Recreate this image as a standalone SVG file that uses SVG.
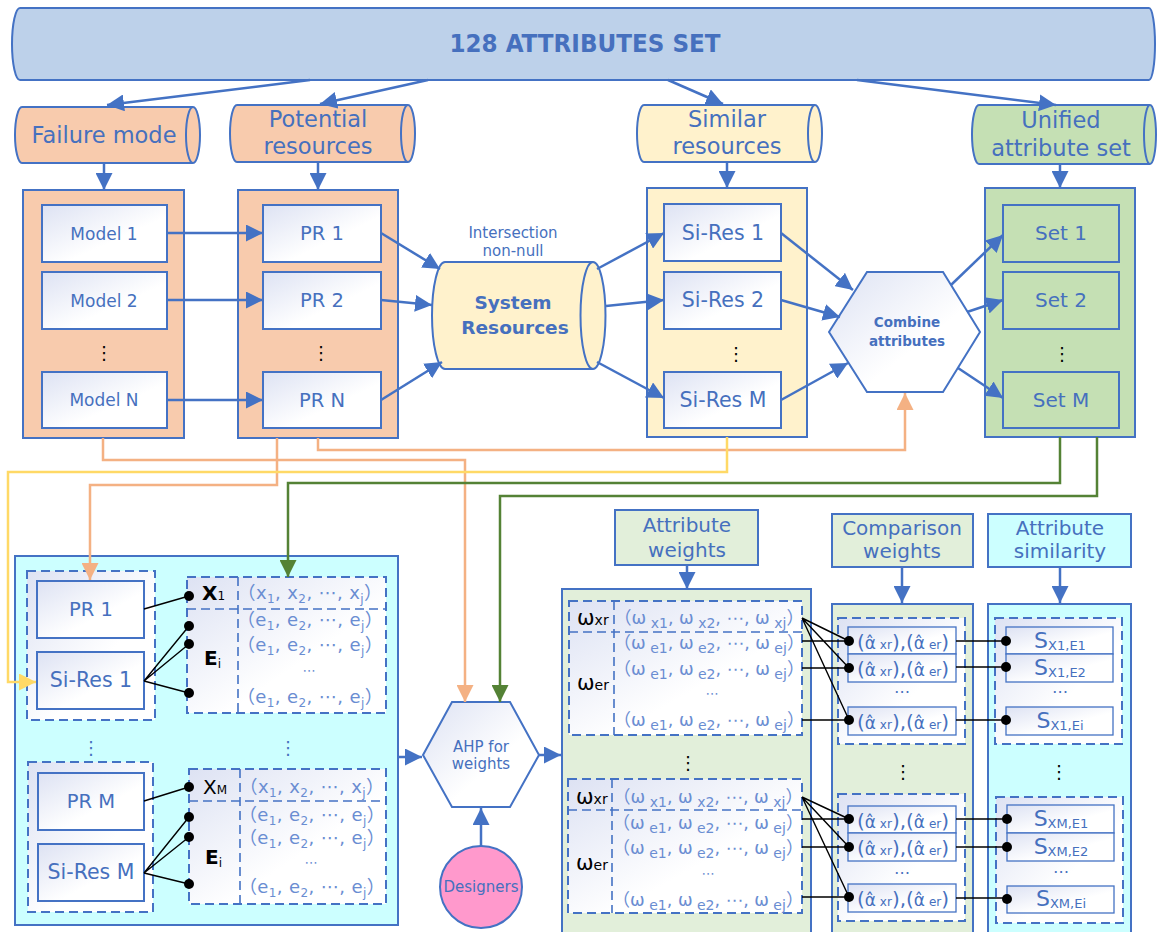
<svg xmlns="http://www.w3.org/2000/svg" width="1158" height="932" viewBox="0 0 1158 932">
<defs>
  <linearGradient id="lav" x1="0" y1="0" x2="1" y2="1">
    <stop offset="0" stop-color="#DDE2F3"/>
    <stop offset="0.6" stop-color="#FFFFFF"/>
  </linearGradient>
  <marker id="ab" viewBox="0 0 10 10" refX="10" refY="5" markerWidth="17" markerHeight="17" markerUnits="userSpaceOnUse" orient="auto"><path d="M0,0 L10,5 L0,10 Z" fill="#4472C4"/></marker>
  <marker id="ao" viewBox="0 0 10 10" refX="10" refY="5" markerWidth="17" markerHeight="17" markerUnits="userSpaceOnUse" orient="auto"><path d="M0,0 L10,5 L0,10 Z" fill="#F4B183"/></marker>
  <marker id="ag" viewBox="0 0 10 10" refX="10" refY="5" markerWidth="17" markerHeight="17" markerUnits="userSpaceOnUse" orient="auto"><path d="M0,0 L10,5 L0,10 Z" fill="#548235"/></marker>
  <marker id="ay" viewBox="0 0 10 10" refX="10" refY="5" markerWidth="17" markerHeight="17" markerUnits="userSpaceOnUse" orient="auto"><path d="M0,0 L10,5 L0,10 Z" fill="#FFD966"/></marker>
</defs>
<style>
  text { font-family: "DejaVu Sans", Verdana, "Noto Sans CJK SC", sans-serif; }
  .tm { fill: #4670BE; text-anchor: middle; }
  .tv { fill: #6A8DD2; text-anchor: middle; font-size: 18px; letter-spacing: 0.4px; }
  .tw { fill: #6A8DD2; text-anchor: middle; font-size: 17.5px; }
  .el { fill: #6A8DD2; text-anchor: middle; font-size: 13px; }
  .tk { fill: #000; }
  .box { fill: url(#lav); stroke: #4472C4; stroke-width: 2; }
  .cell { fill: url(#lav); stroke: #4472C4; stroke-width: 1.3; }
  .grp { fill: url(#lav); stroke: #4472C4; stroke-width: 2; stroke-dasharray: 9 5; }
  .dl { fill: none; stroke: #4472C4; stroke-width: 1.6; stroke-dasharray: 9 5; }
  .pnl { stroke: #4472C4; stroke-width: 2; }
  .c { fill: none; stroke: #4472C4; stroke-width: 2.5; marker-end: url(#ab); }
  .co { fill: none; stroke: #F4B183; stroke-width: 2.5; }
  .cy { fill: none; stroke: #FFD966; stroke-width: 2.5; }
  .cg { fill: none; stroke: #548235; stroke-width: 2.5; }
  .k { fill: none; stroke: #000; stroke-width: 1.4; }
  .dot { fill: #000; }
</style>

<!-- source attribute banner -->
<g id="attr-set">
  <path d="M20,8 H1149 A6,36 0 0 1 1149,80 H20 A8,36 0 0 1 20,8 Z" fill="#BDD1EA" stroke="#4472C4" stroke-width="2"/>
  <text x="585" y="52" class="tm" font-size="25" font-weight="bold" font-stretch="condensed" textLength="271" lengthAdjust="spacingAndGlyphs">128 ATTRIBUTES SET</text>
</g>

<!-- drum headers -->
<g id="failure-mode">
  <path d="M22,107 H193 A7,28 0 0 1 193,163 H22 A7,28 0 0 1 22,107 Z" fill="#F8CBAD" stroke="#4472C4" stroke-width="2"/>
  <path d="M193,107 A7,28 0 0 0 193,163" fill="none" stroke="#4472C4" stroke-width="2"/>
  <text x="104" y="143" class="tm" font-size="22.5">Failure mode</text>
</g>
<g id="potential-resources">
  <path d="M237,105 H408 A7,28.5 0 0 1 408,162 H237 A7,28.5 0 0 1 237,105 Z" fill="#F8CBAD" stroke="#4472C4" stroke-width="2"/>
  <path d="M408,105 A7,28.5 0 0 0 408,162" fill="none" stroke="#4472C4" stroke-width="2"/>
  <text x="318" y="127" class="tm" font-size="22.5">Potential</text>
  <text x="318" y="154" class="tm" font-size="22.5">resources</text>
</g>
<g id="similar-resources">
  <path d="M644,105 H815 A7,28.5 0 0 1 815,162 H644 A7,28.5 0 0 1 644,105 Z" fill="#FFF2CC" stroke="#4472C4" stroke-width="2"/>
  <path d="M815,105 A7,28.5 0 0 0 815,162" fill="none" stroke="#4472C4" stroke-width="2"/>
  <text x="727" y="127" class="tm" font-size="22.5">Similar</text>
  <text x="727" y="154" class="tm" font-size="22.5">resources</text>
</g>
<g id="unified-set">
  <path d="M979,105 H1150 A6,29.5 0 0 1 1150,164 H979 A7,29.5 0 0 1 979,105 Z" fill="#C5E0B4" stroke="#4472C4" stroke-width="2"/>
  <path d="M1150,105 A6,29.5 0 0 0 1150,164" fill="none" stroke="#4472C4" stroke-width="2"/>
  <text x="1061" y="128" class="tm" font-size="22.5">Unified</text>
  <text x="1061" y="156" class="tm" font-size="22.5">attribute set</text>
</g>

<!-- top containers -->
<g id="models">
  <rect x="23" y="190" width="161" height="248" fill="#F8CBAD" class="pnl"/>
  <rect x="42" y="205" width="125" height="57" class="box"/>
  <rect x="42" y="272" width="125" height="57" class="box"/>
  <rect x="42" y="372" width="125" height="56" class="box"/>
  <text x="104" y="240" class="tm" font-size="17">Model 1</text>
  <text x="104" y="307" class="tm" font-size="17">Model 2</text>
  <text x="104" y="406" class="tm" font-size="17">Model N</text>
  <text x="104" y="359" class="tk" font-size="18" text-anchor="middle">⋮</text>
</g>
<g id="pr-list">
  <rect x="238" y="190" width="160" height="248" fill="#F8CBAD" class="pnl"/>
  <rect x="263" y="205" width="118" height="57" class="box"/>
  <rect x="263" y="272" width="118" height="57" class="box"/>
  <rect x="263" y="372" width="118" height="56" class="box"/>
  <text x="322" y="240" class="tm" font-size="19.5">PR 1</text>
  <text x="322" y="307" class="tm" font-size="19.5">PR 2</text>
  <text x="322" y="407" class="tm" font-size="19.5">PR N</text>
  <text x="321" y="359" class="tk" font-size="18" text-anchor="middle">⋮</text>
</g>
<g id="system-resources">
  <path d="M445,262 H593 A12.5,53.5 0 0 1 593,369 H445 A13,53.5 0 0 1 445,262 Z" fill="#FFF2CC" stroke="#4472C4" stroke-width="2"/>
  <path d="M593,262 A12.5,53.5 0 0 0 593,369" fill="none" stroke="#4472C4" stroke-width="2"/>
  <text x="513" y="309" class="tm" font-size="18.5" font-weight="bold">System</text>
  <text x="515" y="334" class="tm" font-size="18.5" font-weight="bold">Resources</text>
  <text x="513" y="238" class="tm" font-size="15">Intersection</text>
  <text x="513" y="256" class="tm" font-size="15">non-null</text>
</g>
<g id="si-res-list">
  <rect x="647" y="188" width="160" height="249" fill="#FFF2CC" class="pnl"/>
  <rect x="664" y="204" width="117" height="57" class="box"/>
  <rect x="664" y="272" width="117" height="57" class="box"/>
  <rect x="664" y="372" width="117" height="56" class="box"/>
  <text x="723" y="240" class="tm" font-size="20.5">Si-Res 1</text>
  <text x="723" y="307" class="tm" font-size="20.5">Si-Res 2</text>
  <text x="723" y="407" class="tm" font-size="20.5">Si-Res M</text>
  <text x="736" y="360" class="tk" font-size="18" text-anchor="middle">⋮</text>
</g>
<g id="combine">
  <path d="M829,332 L867,272 L943,272 L980,332 L943,392 L867,392 Z" class="box"/>
  <text x="907" y="327" class="tm" font-size="13.5" font-weight="bold">Combine</text>
  <text x="907" y="346" class="tm" font-size="13.5" font-weight="bold">attributes</text>
</g>
<g id="set-list">
  <rect x="985" y="188" width="150" height="249" fill="#C5E0B4" class="pnl"/>
  <rect x="1003" y="205" width="116" height="57" fill="#C5E0B4" class="pnl"/>
  <rect x="1003" y="272" width="116" height="57" fill="#C5E0B4" class="pnl"/>
  <rect x="1003" y="372" width="116" height="56" fill="#C5E0B4" class="pnl"/>
  <text x="1061" y="240" class="tm" font-size="20">Set 1</text>
  <text x="1061" y="307" class="tm" font-size="20">Set 2</text>
  <text x="1061" y="407" class="tm" font-size="20">Set M</text>
  <text x="1062" y="360" class="tk" font-size="18" text-anchor="middle">⋮</text>
</g>

<!-- feature matrices -->
<g id="feature-matrix">
  <rect x="15" y="556" width="383" height="369" fill="#CCFFFF" class="pnl"/>
  <rect x="27" y="571" width="128" height="149" class="grp"/>
  <rect x="37" y="581" width="107" height="57" class="box"/>
  <rect x="37" y="652" width="107" height="57" class="box"/>
  <text x="91" y="616" class="tm" font-size="19.5">PR 1</text>
  <text x="91" y="687" class="tm" font-size="20.5">Si-Res 1</text>
  <rect x="187" y="577" width="199" height="136" class="grp"/>
  <line x1="238" y1="577" x2="238" y2="713" class="dl"/>
  <line x1="187" y1="609" x2="386" y2="609" class="dl"/>
  <text x="202" y="600" class="tk" font-size="20" font-weight="bold">X<tspan font-size="12" font-weight="normal">1</tspan></text>
  <text x="204" y="665" class="tk" font-size="20" font-weight="bold">E<tspan font-size="12" font-weight="normal" dy="3">i</tspan></text>
  <text x="310" y="599" class="tv">（x<tspan font-size="12" dy="4">1</tspan><tspan dy="-4">, x</tspan><tspan font-size="12" dy="4">2</tspan><tspan dy="-4">, ⋯, x</tspan><tspan font-size="12" dy="4">j</tspan><tspan dy="-4">）</tspan></text>
  <text x="310" y="626" class="tv">（e<tspan font-size="12" dy="4">1</tspan><tspan dy="-4">, e</tspan><tspan font-size="12" dy="4">2</tspan><tspan dy="-4">, ⋯, e</tspan><tspan font-size="12" dy="4">j</tspan><tspan dy="-4">）</tspan></text>
  <text x="310" y="651" class="tv">（e<tspan font-size="12" dy="4">1</tspan><tspan dy="-4">, e</tspan><tspan font-size="12" dy="4">2</tspan><tspan dy="-4">, ⋯, e</tspan><tspan font-size="12" dy="4">j</tspan><tspan dy="-4">）</tspan></text>
  <text x="309" y="675" class="el">⋯</text>
  <text x="310" y="703" class="tv">（e<tspan font-size="12" dy="4">1</tspan><tspan dy="-4">, e</tspan><tspan font-size="12" dy="4">2</tspan><tspan dy="-4">, ⋯, e</tspan><tspan font-size="12" dy="4">j</tspan><tspan dy="-4">）</tspan></text>

  <text x="91" y="754" class="tm" font-size="18">⋮</text>
  <text x="288" y="754" class="tm" font-size="18">⋮</text>

  <rect x="28" y="762" width="125" height="150" class="grp"/>
  <rect x="38" y="773" width="106" height="57" class="box"/>
  <rect x="38" y="844" width="106" height="57" class="box"/>
  <text x="91" y="808" class="tm" font-size="19.5">PR M</text>
  <text x="91" y="879" class="tm" font-size="20.5">Si-Res M</text>
  <rect x="189" y="769" width="197" height="135" class="grp"/>
  <line x1="240" y1="769" x2="240" y2="904" class="dl"/>
  <line x1="189" y1="801" x2="386" y2="801" class="dl"/>
  <text x="203" y="794" class="tk" font-size="20">X<tspan font-size="12">M</tspan></text>
  <text x="205" y="864" class="tk" font-size="20" font-weight="bold">E<tspan font-size="12" font-weight="normal" dy="3">i</tspan></text>
  <text x="312" y="793" class="tv">（x<tspan font-size="12" dy="4">1</tspan><tspan dy="-4">, x</tspan><tspan font-size="12" dy="4">2</tspan><tspan dy="-4">, ⋯, x</tspan><tspan font-size="12" dy="4">j</tspan><tspan dy="-4">）</tspan></text>
  <text x="312" y="821" class="tv">（e<tspan font-size="12" dy="4">1</tspan><tspan dy="-4">, e</tspan><tspan font-size="12" dy="4">2</tspan><tspan dy="-4">, ⋯, e</tspan><tspan font-size="12" dy="4">j</tspan><tspan dy="-4">）</tspan></text>
  <text x="312" y="844" class="tv">（e<tspan font-size="12" dy="4">1</tspan><tspan dy="-4">, e</tspan><tspan font-size="12" dy="4">2</tspan><tspan dy="-4">, ⋯, e</tspan><tspan font-size="12" dy="4">j</tspan><tspan dy="-4">）</tspan></text>
  <text x="311" y="867" class="el">⋯</text>
  <text x="312" y="893" class="tv">（e<tspan font-size="12" dy="4">1</tspan><tspan dy="-4">, e</tspan><tspan font-size="12" dy="4">2</tspan><tspan dy="-4">, ⋯, e</tspan><tspan font-size="12" dy="4">j</tspan><tspan dy="-4">）</tspan></text>
</g>

<g id="ahp">
  <path d="M423,755 L452,702 L510,702 L539,755 L510,807 L452,807 Z" class="box"/>
  <text x="481" y="752" class="tm" font-size="15">AHP for</text>
  <text x="481" y="769" class="tm" font-size="15">weights</text>
</g>
<g id="designers">
  <circle cx="481" cy="887" r="41" fill="#FF99CC" stroke="#4472C4" stroke-width="2"/>
  <text x="481" y="892" class="tm" font-size="15">Designers</text>
</g>

<g id="attribute-weights">
  <rect x="615" y="510" width="143" height="55" fill="#E2EFDA" class="pnl"/>
  <text x="687" y="532" class="tm" font-size="20">Attribute</text>
  <text x="687" y="557" class="tm" font-size="20">weights</text>
  <rect x="562" y="589" width="249" height="350" fill="#E2EFDA" class="pnl"/>
  <rect x="569" y="601" width="233" height="134" class="grp"/>
  <line x1="614" y1="601" x2="614" y2="735" class="dl"/>
  <line x1="569" y1="632" x2="802" y2="632" class="dl"/>
  <text x="577" y="625" class="tk" font-size="21">ω<tspan font-size="14">xr</tspan></text>
  <text x="577" y="690" class="tk" font-size="21">ω<tspan font-size="14">er</tspan></text>
  <text x="709" y="624" class="tw">（ω<tspan font-size="14" dy="4"> x1</tspan><tspan dy="-4">, ω</tspan><tspan font-size="14" dy="4"> x2</tspan><tspan dy="-4">, ⋯, ω</tspan><tspan font-size="14" dy="4"> xj</tspan><tspan dy="-4">）</tspan></text>
  <text x="709" y="649" class="tw">（ω<tspan font-size="14" dy="4"> e1</tspan><tspan dy="-4">, ω</tspan><tspan font-size="14" dy="4"> e2</tspan><tspan dy="-4">, ⋯, ω</tspan><tspan font-size="14" dy="4"> ej</tspan><tspan dy="-4">）</tspan></text>
  <text x="709" y="675" class="tw">（ω<tspan font-size="14" dy="4"> e1</tspan><tspan dy="-4">, ω</tspan><tspan font-size="14" dy="4"> e2</tspan><tspan dy="-4">, ⋯, ω</tspan><tspan font-size="14" dy="4"> ej</tspan><tspan dy="-4">）</tspan></text>
  <text x="712" y="698" class="el">⋯</text>
  <text x="709" y="726" class="tw">（ω<tspan font-size="14" dy="4"> e1</tspan><tspan dy="-4">, ω</tspan><tspan font-size="14" dy="4"> e2</tspan><tspan dy="-4">, ⋯, ω</tspan><tspan font-size="14" dy="4"> ej</tspan><tspan dy="-4">）</tspan></text>

  <text x="688" y="769" class="tk" font-size="18" text-anchor="middle">⋮</text>

  <rect x="568" y="779" width="234" height="134" class="grp"/>
  <line x1="612" y1="779" x2="612" y2="913" class="dl"/>
  <line x1="568" y1="810" x2="802" y2="810" class="dl"/>
  <text x="576" y="804" class="tk" font-size="21">ω<tspan font-size="14">xr</tspan></text>
  <text x="576" y="870" class="tk" font-size="21">ω<tspan font-size="14">er</tspan></text>
  <text x="708" y="803" class="tw">（ω<tspan font-size="14" dy="4"> x1</tspan><tspan dy="-4">, ω</tspan><tspan font-size="14" dy="4"> x2</tspan><tspan dy="-4">, ⋯, ω</tspan><tspan font-size="14" dy="4"> xj</tspan><tspan dy="-4">）</tspan></text>
  <text x="708" y="829" class="tw">（ω<tspan font-size="14" dy="4"> e1</tspan><tspan dy="-4">, ω</tspan><tspan font-size="14" dy="4"> e2</tspan><tspan dy="-4">, ⋯, ω</tspan><tspan font-size="14" dy="4"> ej</tspan><tspan dy="-4">）</tspan></text>
  <text x="708" y="854" class="tw">（ω<tspan font-size="14" dy="4"> e1</tspan><tspan dy="-4">, ω</tspan><tspan font-size="14" dy="4"> e2</tspan><tspan dy="-4">, ⋯, ω</tspan><tspan font-size="14" dy="4"> ej</tspan><tspan dy="-4">）</tspan></text>
  <text x="708" y="878" class="el" font-size="12">⋯</text>
  <text x="708" y="906" class="tw">（ω<tspan font-size="14" dy="4"> e1</tspan><tspan dy="-4">, ω</tspan><tspan font-size="14" dy="4"> e2</tspan><tspan dy="-4">, ⋯, ω</tspan><tspan font-size="14" dy="4"> ej</tspan><tspan dy="-4">）</tspan></text>
</g>

<g id="comparison-weights">
  <rect x="832" y="514" width="141" height="53" fill="#E2EFDA" class="pnl"/>
  <text x="902" y="535" class="tm" font-size="20">Comparison</text>
  <text x="902" y="558" class="tm" font-size="20">weights</text>
  <rect x="832" y="604" width="141" height="335" fill="#E2EFDA" class="pnl"/>
  <rect x="838" y="618" width="127" height="126" class="grp"/>
  <rect x="848" y="627" width="108" height="27" class="cell"/>
  <rect x="848" y="654" width="108" height="28" class="cell"/>
  <rect x="848" y="707" width="108" height="28" class="cell"/>
  <text x="902" y="697" class="tm" font-size="16">⋯</text>
  <rect x="838" y="794" width="127" height="127" class="grp"/>
  <rect x="848" y="806" width="108" height="27" class="cell"/>
  <rect x="848" y="833" width="108" height="28" class="cell"/>
  <rect x="848" y="884" width="108" height="28" class="cell"/>
  <text x="902" y="878" class="tm" font-size="16">⋯</text>
  <text x="903" y="778" class="tk" font-size="18" text-anchor="middle">⋮</text>
  <g class="tm">
    <text x="903" y="649"><tspan font-size="20">(</tspan><tspan font-size="17">α̂</tspan><tspan font-size="12"> xr</tspan><tspan font-size="20">),(</tspan><tspan font-size="17">α̂</tspan><tspan font-size="12"> er</tspan><tspan font-size="20">)</tspan></text>
    <text x="903" y="676"><tspan font-size="20">(</tspan><tspan font-size="17">α̂</tspan><tspan font-size="12"> xr</tspan><tspan font-size="20">),(</tspan><tspan font-size="17">α̂</tspan><tspan font-size="12"> er</tspan><tspan font-size="20">)</tspan></text>
    <text x="903" y="729"><tspan font-size="20">(</tspan><tspan font-size="17">α̂</tspan><tspan font-size="12"> xr</tspan><tspan font-size="20">),(</tspan><tspan font-size="17">α̂</tspan><tspan font-size="12"> er</tspan><tspan font-size="20">)</tspan></text>
    <text x="903" y="828"><tspan font-size="20">(</tspan><tspan font-size="17">α̂</tspan><tspan font-size="12"> xr</tspan><tspan font-size="20">),(</tspan><tspan font-size="17">α̂</tspan><tspan font-size="12"> er</tspan><tspan font-size="20">)</tspan></text>
    <text x="903" y="855"><tspan font-size="20">(</tspan><tspan font-size="17">α̂</tspan><tspan font-size="12"> xr</tspan><tspan font-size="20">),(</tspan><tspan font-size="17">α̂</tspan><tspan font-size="12"> er</tspan><tspan font-size="20">)</tspan></text>
    <text x="903" y="906"><tspan font-size="20">(</tspan><tspan font-size="17">α̂</tspan><tspan font-size="12"> xr</tspan><tspan font-size="20">),(</tspan><tspan font-size="17">α̂</tspan><tspan font-size="12"> er</tspan><tspan font-size="20">)</tspan></text>
  </g>
</g>

<g id="attribute-similarity">
  <rect x="988" y="514" width="143" height="53" fill="#CCFFFF" class="pnl"/>
  <text x="1060" y="535" class="tm" font-size="20">Attribute</text>
  <text x="1060" y="558" class="tm" font-size="20">similarity</text>
  <rect x="988" y="604" width="143" height="335" fill="#CCFFFF" class="pnl"/>
  <rect x="995" y="618" width="127" height="126" class="grp"/>
  <rect x="1006" y="627" width="107" height="27" class="cell"/>
  <rect x="1006" y="654" width="107" height="28" class="cell"/>
  <rect x="1006" y="707" width="107" height="28" class="cell"/>
  <text x="1060" y="697" class="tm" font-size="16">⋯</text>
  <rect x="996" y="797" width="127" height="126" class="grp"/>
  <rect x="1007" y="805" width="107" height="28" class="cell"/>
  <rect x="1007" y="833" width="107" height="28" class="cell"/>
  <rect x="1007" y="886" width="107" height="27" class="cell"/>
  <text x="1061" y="877" class="tm" font-size="16">⋯</text>
  <text x="1059" y="778" class="tk" font-size="18" text-anchor="middle">⋮</text>
  <g class="tm">
    <text x="1060" y="648"><tspan font-size="22">S</tspan><tspan font-size="13" dy="2">X1,E1</tspan></text>
    <text x="1060" y="675"><tspan font-size="22">S</tspan><tspan font-size="13" dy="2">X1,E2</tspan></text>
    <text x="1060" y="728"><tspan font-size="22">S</tspan><tspan font-size="13" dy="2">X1,Ei</tspan></text>
    <text x="1061" y="826"><tspan font-size="22">S</tspan><tspan font-size="13" dy="2">XM,E1</tspan></text>
    <text x="1061" y="854"><tspan font-size="22">S</tspan><tspan font-size="13" dy="2">XM,E2</tspan></text>
    <text x="1061" y="906"><tspan font-size="22">S</tspan><tspan font-size="13" dy="2">XM,Ei</tspan></text>
  </g>
</g>

<!-- connectors -->
<g id="connectors">
  <path class="c" d="M310,80 L107,105"/>
  <path class="c" d="M428,80 L320,104"/>
  <path class="c" d="M668,80 L723,104"/>
  <path class="c" d="M857,80 L1056,105"/>
  <path class="c" d="M104,163 L104,190"/>
  <path class="c" d="M318,162 L318,190"/>
  <path class="c" d="M727,162 L727,188"/>
  <path class="c" d="M1060,164 L1060,188"/>
  <path class="c" d="M167,233 L263,233"/>
  <path class="c" d="M167,300 L263,300"/>
  <path class="c" d="M167,400 L263,400"/>
  <path class="c" d="M381,233 L440,269"/>
  <path class="c" d="M381,300 L432,305"/>
  <path class="c" d="M381,400 L442,362"/>
  <path class="c" d="M597,269 L664,233"/>
  <path class="c" d="M606,306 L664,300"/>
  <path class="c" d="M597,362 L664,398"/>
  <path class="c" d="M781,233 L853,290"/>
  <path class="c" d="M781,300 L840,317"/>
  <path class="c" d="M781,400 L848,363"/>
  <path class="c" d="M951,285 L1003,235"/>
  <path class="c" d="M967,312 L1003,300"/>
  <path class="c" d="M958,368 L1003,398"/>
  <path class="c" d="M398,757 L422,757"/>
  <path class="c" d="M539,755 L561,755"/>
  <path class="c" d="M481,846 L481,808"/>
  <path class="c" d="M687,565 L687,589"/>
  <path class="c" d="M902,567 L902,603"/>
  <path class="c" d="M1060,567 L1060,603"/>

  <path class="co" d="M103,438 V460 H465 V702" marker-end="url(#ao)"/>
  <path class="co" d="M277,438 V485 H90 V580" marker-end="url(#ao)"/>
  <path class="co" d="M318,438 V450 H905 V393" marker-end="url(#ao)"/>
  <path class="cy" d="M727,437 V472 H8 V682 H36" marker-end="url(#ay)"/>
  <path class="cg" d="M1060,437 V483 H288 V577" marker-end="url(#ag)"/>
  <path class="cg" d="M1097,437 V496 H500 V702" marker-end="url(#ag)"/>

  <path class="k" d="M144,609 L189,596 M144,681 L189,626 M144,681 L189,644 M144,681 L189,693"/>
  <path class="k" d="M144,801 L189,787 M144,873 L189,817 M144,873 L189,837 M144,873 L189,884"/>
  <path class="k" d="M802,618 L849,641 M802,618 L849,668 M802,618 L849,720 M802,641 H849 M802,668 H849 M802,720 H849"/>
  <path class="k" d="M802,797 L849,819 M802,797 L849,847 M802,797 L849,897 M802,819 H849 M802,847 H849 M802,897 H849"/>
  <path class="k" d="M956,641 H1006 M956,667 H1006 M956,720 H1006 M956,819 H1007 M956,847 H1007 M956,898 H1007"/>
  <g class="dot">
    <circle cx="189" cy="596" r="5"/><circle cx="189" cy="626" r="5"/><circle cx="189" cy="644" r="5"/><circle cx="189" cy="693" r="5"/>
    <circle cx="189" cy="787" r="5"/><circle cx="189" cy="817" r="5"/><circle cx="189" cy="837" r="5"/><circle cx="189" cy="884" r="5"/>
    <circle cx="849" cy="641" r="5"/><circle cx="849" cy="668" r="5"/><circle cx="849" cy="720" r="5"/>
    <circle cx="849" cy="819" r="5"/><circle cx="849" cy="847" r="5"/><circle cx="849" cy="897" r="5"/>
    <circle cx="1006" cy="641" r="5"/><circle cx="1006" cy="667" r="5"/><circle cx="1006" cy="720" r="5"/>
    <circle cx="1007" cy="819" r="5"/><circle cx="1007" cy="847" r="5"/><circle cx="1007" cy="899" r="5"/>
  </g>
</g>
</svg>
